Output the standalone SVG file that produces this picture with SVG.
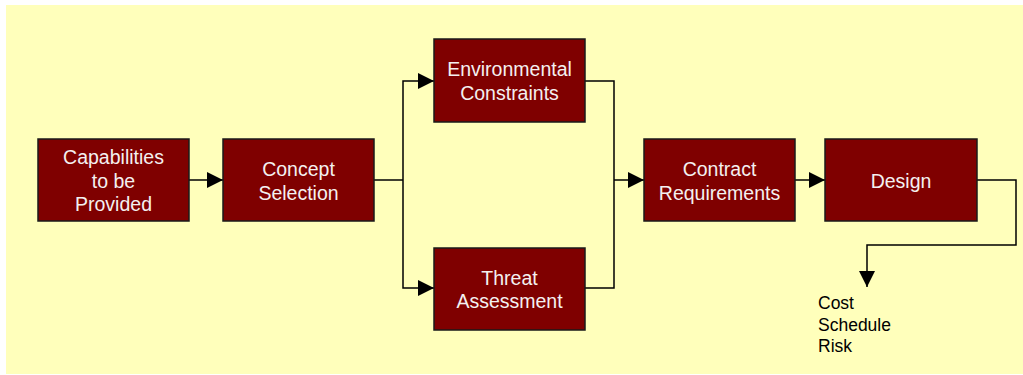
<svg xmlns="http://www.w3.org/2000/svg" width="1023" height="375" viewBox="0 0 1023 375">
<defs>
<style>
.box{fill:#7f0000;stroke:#1a1a1a;stroke-width:1.5}
.lbl{font-family:"Liberation Sans",Arial,sans-serif;font-size:19.5px;fill:#f4f0f0;text-anchor:middle}
.out{font-family:"Liberation Sans",Arial,sans-serif;font-size:17.5px;fill:#000}
.ln{fill:none;stroke:#000;stroke-width:1.5}
</style>
<marker id="ah" markerWidth="16" markerHeight="16" refX="16" refY="8" orient="auto" markerUnits="userSpaceOnUse">
<path d="M0,0 L16,8 L0,16 Z" fill="#000"/>
</marker>
</defs>
<rect x="0" y="0" width="1023" height="375" fill="#ffffff"/>
<rect x="6" y="5" width="1017" height="369" fill="#ffffbb"/>
<g id="connectors">
<path class="ln" d="M189,180 H223" marker-end="url(#ah)"/>
<path class="ln" d="M374,180 H403"/>
<path class="ln" d="M403,180 V81 H434" marker-end="url(#ah)"/>
<path class="ln" d="M403,180 V288 H434" marker-end="url(#ah)"/>
<path class="ln" d="M585,81 H614 V288 H585"/>
<path class="ln" d="M614,180 H644" marker-end="url(#ah)"/>
<path class="ln" d="M795,180 H825" marker-end="url(#ah)"/>
<path class="ln" d="M977,180 H1016 V245 H867 V287" marker-end="url(#ah)"/>
</g>
<g id="capabilities">
<rect class="box" x="38" y="139" width="151" height="82"/>
<text class="lbl" x="113.5"><tspan x="113.5" y="164">Capabilities</tspan><tspan x="113.5" y="187.5">to be</tspan><tspan x="113.5" y="211">Provided</tspan></text>
</g>
<g id="concept">
<rect class="box" x="223" y="139" width="151" height="82"/>
<text class="lbl"><tspan x="298.5" y="176">Concept</tspan><tspan x="298.5" y="199.5">Selection</tspan></text>
</g>
<g id="environmental">
<rect class="box" x="434" y="39" width="151" height="83"/>
<text class="lbl"><tspan x="509.5" y="76">Environmental</tspan><tspan x="509.5" y="99.5">Constraints</tspan></text>
</g>
<g id="threat">
<rect class="box" x="434" y="248" width="151" height="82"/>
<text class="lbl"><tspan x="509.5" y="285">Threat</tspan><tspan x="509.5" y="308">Assessment</tspan></text>
</g>
<g id="contract">
<rect class="box" x="644" y="139" width="151" height="82"/>
<text class="lbl"><tspan x="719.5" y="176">Contract</tspan><tspan x="719.5" y="199.5">Requirements</tspan></text>
</g>
<g id="design">
<rect class="box" x="825" y="139" width="152" height="82"/>
<text class="lbl" x="901" y="188">Design</text>
</g>
<g id="outputs">
<text class="out"><tspan x="818" y="309">Cost</tspan><tspan x="818" y="330.5">Schedule</tspan><tspan x="818" y="352">Risk</tspan></text>
</g>
</svg>
